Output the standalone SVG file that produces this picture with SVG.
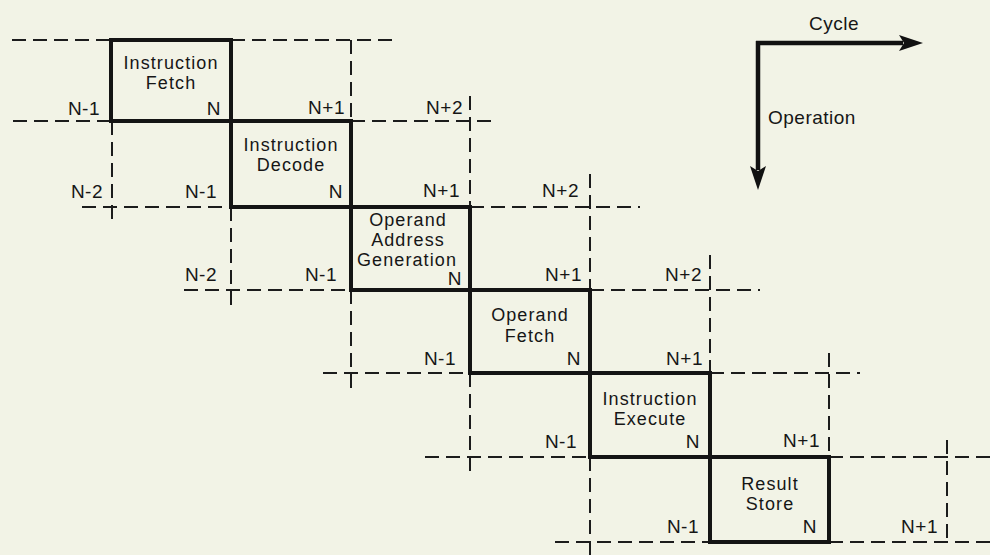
<svg xmlns="http://www.w3.org/2000/svg" width="990" height="555" viewBox="0 0 990 555">
<style>
.bg{fill:#f2f3e6}
.box{fill:none;stroke:#141414;stroke-width:4}
.dash{fill:none;stroke:#1c1c1c;stroke-width:2;stroke-dasharray:14 7}
.t{font-family:"Liberation Sans",Arial,Helvetica,sans-serif;font-size:19px;fill:#161616;letter-spacing:0.5px}
.b{font-size:18px;letter-spacing:1.1px}
.c{text-anchor:middle}
.r{text-anchor:end}
.ax{fill:none;stroke:#111;stroke-width:4.5}
</style>
<defs>
<marker id="ah" markerUnits="userSpaceOnUse" markerWidth="26" markerHeight="20" refX="4" refY="10" orient="auto" viewBox="0 0 26 20">
<path d="M0,2 L24,10 L0,18 L5,10 Z" fill="#111"/>
</marker>
</defs>
<rect class="bg" x="0" y="0" width="990" height="555"/>

<g id="connectors">
<path class="dash" d="M12,40 H111 M231,40 H398 M13,121 H111 M351,121 H492 M82,207 H231 M470,207 H640 M184,290 H351 M590,290 H760 M323,373 H470 M710,373 H860 M425,457 H590 M829,457 H990 M555,542 H710 M829,542 H990"/>
<path class="dash" d="M351,40 V121 M470,96 V207 M112,121 V222 M590,174 V290 M231,207 V305 M710,255 V373 M351,290 V389 M829,353 V457 M470,373 V475 M947,440 V542 M590,457 V555"/>
<line class="ax" x1="756" y1="43" x2="903" y2="43" marker-end="url(#ah)"/>
<line class="ax" x1="758" y1="41" x2="758" y2="170" marker-end="url(#ah)"/>
</g>

<g id="instruction-fetch">
<rect class="box" x="111" y="40" width="120" height="81"/>
<text class="t b c" x="171" y="69">Instruction</text>
<text class="t b c" x="171" y="89">Fetch</text>
<text class="t r" x="221" y="115">N</text>
</g>

<g id="instruction-decode">
<rect class="box" x="231" y="121" width="120" height="86"/>
<text class="t b c" x="291" y="151">Instruction</text>
<text class="t b c" x="291" y="171">Decode</text>
<text class="t r" x="343" y="198">N</text>
</g>

<g id="operand-address-generation">
<rect class="box" x="351" y="207" width="119" height="83"/>
<text class="t b c" x="408" y="226">Operand</text>
<text class="t b c" x="408" y="246">Address</text>
<text class="t b c" x="407" y="266">Generation</text>
<text class="t r" x="462" y="285">N</text>
</g>

<g id="operand-fetch">
<rect class="box" x="470" y="290" width="120" height="83"/>
<text class="t b c" x="530" y="321">Operand</text>
<text class="t b c" x="530" y="342">Fetch</text>
<text class="t r" x="581" y="365">N</text>
</g>

<g id="instruction-execute">
<rect class="box" x="590" y="373" width="120" height="84"/>
<text class="t b c" x="650" y="405">Instruction</text>
<text class="t b c" x="650" y="425">Execute</text>
<text class="t r" x="700" y="448">N</text>
</g>

<g id="result-store">
<rect class="box" x="710" y="457" width="119" height="85"/>
<text class="t b c" x="770" y="490">Result</text>
<text class="t b c" x="770" y="510">Store</text>
<text class="t r" x="817" y="533">N</text>
</g>

<g id="labels">
<text class="t r" x="100" y="115">N-1</text>
<text class="t r" x="345" y="114">N+1</text>
<text class="t r" x="463" y="114">N+2</text>
<text class="t r" x="103" y="198">N-2</text>
<text class="t r" x="217" y="198">N-1</text>
<text class="t r" x="460" y="197">N+1</text>
<text class="t r" x="579" y="197">N+2</text>
<text class="t r" x="217" y="281">N-2</text>
<text class="t r" x="337" y="281">N-1</text>
<text class="t r" x="582" y="281">N+1</text>
<text class="t r" x="702" y="281">N+2</text>
<text class="t r" x="456" y="365">N-1</text>
<text class="t r" x="703" y="365">N+1</text>
<text class="t r" x="577" y="448">N-1</text>
<text class="t r" x="820" y="447">N+1</text>
<text class="t r" x="699" y="533">N-1</text>
<text class="t r" x="938" y="533">N+1</text>
</g>

<g id="axes-labels">
<text class="t c" x="834" y="30">Cycle</text>
<text class="t" x="768" y="124">Operation</text>
</g>
</svg>
